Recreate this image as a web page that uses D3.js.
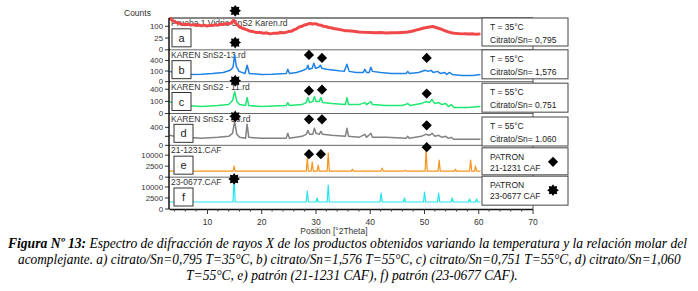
<!DOCTYPE html>
<html>
<head>
<meta charset="utf-8">
<script src="https://cdn.jsdelivr.net/npm/d3@7"></script>
<style>
  body { margin: 0; background: #fff; }
  svg { display: block; }
</style>
</head>
<body>
<div id="chart"></div>
<script>
const width = 698, height = 291;
const sans = "Liberation Sans, Arial, sans-serif";

/// data: [°2Theta, counts]
const letters = ["a", "b", "c", "d", "e", "f"];
const scanNames = ["Prueba 1 Vidrio SnS2 Karen.rd", "KAREN SnS2-13.rd", "KAREN SnS2 - 11.rd",
                   "KAREN SnS2 - 10.rd", "21-1231.CAF", "23-0677.CAF"];
const boxLine1 = ["T = 35°C", "T = 55°C", "T = 55°C", "T = 55°C", "PATRON", "PATRON"];
const boxLine2 = ["Citrato/Sn= 0,795", "Citrato/Sn= 1,576", "Citrato/Sn= 0.751",
                  "Citrato/Sn= 1.060", "21-1231 CAF", "23-0677 CAF"];
const yMax = [183, 900, 690, 1250, 20900, 20900];
const yTicks = [[0, 25, 100], [0, 100, 400], [0, 100, 400], [0, 100, 400], [0, 2500, 10000], [0, 2500, 10000]];
const yTickLabels = [["0", "25", "100"], ["0", "100", "400"], ["0", "100", "400"], ["0", "", "400"],
                     ["0", "2500", "10000"], ["0", "2500", "10000"]];
const xTicks = [10, 20, 30, 40, 50, 60, 70];

const seriesA = [[3.1,185],[3.4,168],[3.8,150],[4.1,142],[4.6,130],[5,126],[5.5,118],[6,113],[6.5,119],[7,110],
  [7.5,115],[8,106],[8.5,112],[9,104],[9.5,110],[10,102],[10.5,108],[11,106],[11.5,113],[12,110],[12.5,118],
  [13,116],[13.5,124],[14,122],[14.5,130],[14.9,158],[15.3,128],[15.7,108],[16.1,92],[16.6,84],[17,78],
  [17.5,70],[18,62],[18.5,60],[19,55],[19.8,54],[20.5,50],[21,52],[21.6,46],[22.2,49],[23,50],[23.5,54],
  [24.2,52],[25,60],[25.5,62],[26,72],[26.5,80],[27,94],[27.5,100],[28,112],[28.5,118],[29,126],[29.5,120],
  [30,124],[30.5,114],[31,110],[31.5,100],[32,96],[32.5,90],[33,86],[33.6,80],[34.2,76],[35,70],[35.5,66],
  [36,65],[37,62],[38,58],[39,56],[40,55],[41,52],[42,54],[43,51],[44,53],[45,52],[46,55],[47,58],[48,64],
  [48.5,70],[49,74],[49.5,80],[50,86],[50.5,90],[51,94],[51.6,98],[52.2,90],[52.8,82],[53.4,74],[54,64],
  [54.5,58],[55,53],[55.6,50],[56.2,48],[57,46],[57.6,47],[58.2,45],[59,46],[59.6,44],[60.4,46]];

const seriesB = [[3.1,94],[4,76],[5,60],[7,46],[9,50],[11,60],[13,76],[14.3,114],[14.8,185],[15.1,637],
  [15.4,212],[15.9,94],[17,60],[17.4,241],[17.8,60],[20,46],[22,50],[24.6,60],[24.9,136],[25.2,60],
  [26.5,76],[27.8,114],[28.4,159],[28.6,241],[28.8,136],[29.4,159],[29.7,305],[30,159],[30.6,185],
  [30.9,241],[31.2,159],[32,136],[33.5,114],[35.3,94],[35.8,272],[36.2,94],[37.5,76],[38.8,76],[39.1,136],
  [39.4,76],[39.9,76],[40.2,185],[40.5,94],[42,76],[44,60],[46.7,60],[47,94],[47.3,60],[49,76],[50.2,114],
  [50.8,94],[51.3,114],[51.7,76],[52.5,94],[53,60],[53.8,76],[54.2,46],[54.7,76],[55.2,46],[57,34],
  [59,34],[60.4,46]];

const seriesC = [[3.1,97],[4,67],[6,43],[9,33],[12,43],[14,54],[14.7,114],[15.1,325],[15.5,97],[16,54],
  [17.1,43],[17.4,172],[17.7,43],[20,33],[24.6,43],[24.9,81],[25.2,43],[27.5,54],[28.3,81],[28.6,172],
  [28.9,81],[29.5,97],[29.8,194],[30.1,97],[30.7,97],[31,172],[31.3,81],[33,67],[35.5,54],[35.8,172],
  [36.1,54],[38,54],[39.1,81],[39.4,54],[40.2,97],[40.5,54],[43,43],[46,43],[47,67],[47.4,43],[49.5,67],
  [50.3,97],[51,81],[51.5,132],[52,67],[52.7,81],[53.3,54],[54,67],[54.5,33],[55,54],[55.5,24],[58,24],
  [60.4,33]];

const seriesD = [[3.1,123],[4,100],[6,79],[9,60],[12,79],[14,100],[14.7,178],[15.1,711],[15.5,149],
  [16,79],[17.1,60],[17.4,544],[17.7,79],[20,60],[24.6,60],[24.9,178],[25.2,60],[27.5,100],[28.3,149],
  [28.6,278],[28.9,149],[29.5,149],[29.8,357],[30.1,178],[30.7,149],[31,242],[31.3,149],[33,123],
  [35.5,100],[35.8,357],[36.1,100],[38,79],[39.1,149],[39.4,79],[40.2,178],[40.5,79],[43,79],[46.7,60],
  [47,100],[47.3,60],[49.5,100],[50.3,149],[51,123],[51.5,178],[52,100],[52.7,123],[53.3,79],[54,100],
  [54.5,60],[55,79],[55.5,44],[58,44],[60.4,44]];

const seriesE = [[3.1,744],[14.8,744],[15,2500],[15.2,744],[28.3,744],[28.5,7460],[28.7,744],[29.2,744],
  [29.4,4650],[29.6,744],[30.3,744],[30.5,2975],[30.7,744],[32.15,744],[32.35,11900],[32.55,744],
  [36.6,744],[36.8,1320],[37,744],[42.1,744],[42.3,1670],[42.5,744],[46.4,744],[46.6,1012],[46.8,744],
  [50.2,744],[50.4,15000],[50.6,744],[52.6,744],[52.8,5970],[53,744],[55.6,744],[55.8,1320],[56,744],
  [58.4,744],[58.6,5970],[58.8,744],[59.3,744],[59.5,2500],[59.7,744],[60.4,744]];

const seriesF = [[3.1,1012],[14.8,1012],[15,21150],[15.2,1012],[28.3,1012],[28.5,6690],[28.7,1012],
  [30.1,1012],[30.3,2500],[30.5,1012],[32.15,1012],[32.35,11900],[32.55,1012],[41.9,1012],[42.1,5290],
  [42.3,1012],[46.2,1012],[46.4,2500],[46.6,1012],[49.9,1012],[50.1,5970],[50.3,1012],[52.5,1012],
  [52.7,5290],[52.9,1012],[55,1012],[55.2,2500],[55.4,1012],[58.2,1012],[58.4,2070],[58.6,1012],
  [59.5,1012],[59.7,2070],[59.9,1012],[60.4,1012]];

const allSeries = [seriesA, seriesB, seriesC, seriesD, seriesE, seriesF];
const colors = ["#f04848", "#1f83e6", "#1ee872", "#828282", "#f7941d", "#22e6ee"];

// phase markers: panel index, kind, °2Theta, counts
const markers = [
  [0, "star", 15.2, 275],
  [1, "star", 15.2, 1360], [1, "diamond", 28.8, 637], [1, "diamond", 31.2, 499], [1, "diamond", 50.5, 499],
  [2, "star", 15.2, 730], [2, "diamond", 28.8, 355], [2, "diamond", 31.2, 387], [2, "diamond", 50.5, 269],
  [3, "star", 15.2, 1038], [3, "diamond", 28.8, 835], [3, "diamond", 31.2, 835], [3, "diamond", 50.5, 494],
  [4, "diamond", 28.8, 10900], [4, "diamond", 31.0, 10900], [4, "diamond", 50.5, 18600],
  [5, "star", 15.0, 18600]
];
const boxMarkers = ["", "", "", "", "diamond", "star"];

const captionLines = [
  [["Figura Nº 13:", true], [" Espectro de difracción de rayos X de los productos obtenidos variando la temperatura y la relación molar del", false]],
  [["acomplejante. a) citrato/Sn=0,795 T=35°C, b) citrato/Sn=1,576 T=55°C, c) citrato/Sn=0,751 T=55°C, d) citrato/Sn=1,060", false]],
  [["T=55°C, e) patrón (21-1231 CAF), f) patrón (23-0677 CAF).", false]]
];

/// layout
const plotLeft = 169, plotRight = 533, plotTop = 18, plotBottom = 209;
const svg = d3.select("#chart").append("svg")
  .attr("width", width).attr("height", height)
  .style("background", "#fff")
  .style("font-family", sans);

const x = d3.scaleLinear().domain([3, 70]).range([plotLeft, 532.5]);
const band = d3.scaleBand().domain(letters).range([plotTop, plotBottom]);
const yScales = letters.map((l, i) =>
  d3.scaleSqrt().domain([0, yMax[i]]).range([band(l) + band.bandwidth(), band(l)]));

// 8 point burst for the 23-0677 phase
const symbolBurst = {
  draw(context, size) {
    const r = Math.sqrt(size) * 0.62, ri = r * 0.68;
    for (let i = 0; i < 16; i++) {
      const a = Math.PI * i / 8, rr = i % 2 ? ri : r;
      const px = Math.sin(a) * rr, py = -Math.cos(a) * rr;
      i ? context.lineTo(px, py) : context.moveTo(px, py);
    }
    context.closePath();
  }
};
const markerPath = kind => kind === "star"
  ? d3.symbol(symbolBurst, 90)()
  : d3.symbol(d3.symbolSquare, 52)();
const markerRot = kind => kind === "star" ? 0 : 45;

/// frame
const frame = svg.append("g");
letters.forEach((l, i) => {
  frame.append("line")
    .attr("x1", plotLeft).attr("x2", plotRight)
    .attr("y1", band(l)).attr("y2", band(l))
    .attr("stroke", i === 0 ? "#111" : "#666").attr("stroke-width", 1);
});
frame.append("line").attr("x1", plotRight).attr("x2", plotRight).attr("y1", plotTop).attr("y2", plotBottom)
  .attr("stroke", "#555");

/// scan names (drawn under the traces)
svg.append("g").selectAll("text")
  .data(letters)
  .join("text")
    .attr("x", plotLeft + 2)
    .attr("y", l => band(l) + 8)
    .attr("font-size", 8.5)
    .attr("fill", "#333")
    .text((l, i) => scanNames[i]);

/// traces
const lineGen = i => d3.line().x(d => x(d[0])).y(d => yScales[i](d[1]));
svg.append("g").selectAll("path")
  .data(allSeries)
  .join("path")
    .attr("d", (d, i) => lineGen(i)(d))
    .attr("fill", "none")
    .attr("stroke", (d, i) => colors[i])
    .attr("stroke-width", (d, i) => i === 0 ? 3 : (i >= 4 ? 1.2 : 1.5))
    .attr("stroke-linejoin", "round");

/// y axes per panel
const yAxis = svg.append("g");
letters.forEach((l, i) => {
  const g = yAxis.append("g");
  yTicks[i].forEach((t, j) => {
    const yy = yScales[i](t);
    g.append("line").attr("x1", plotLeft - 4).attr("x2", plotLeft).attr("y1", yy).attr("y2", yy)
      .attr("stroke", "#333");
    g.append("text").attr("x", plotLeft - 6).attr("y", yy).attr("dy", "0.33em")
      .attr("text-anchor", "end").attr("font-size", 7.8).attr("fill", "#333")
      .text(yTickLabels[i][j]);
  });
});
svg.append("line").attr("x1", plotLeft).attr("x2", plotLeft).attr("y1", plotTop).attr("y2", plotBottom)
  .attr("stroke", "#111").attr("stroke-width", 1.5);
svg.append("text").attr("x", 124).attr("y", 16).attr("font-size", 8.5).attr("fill", "#333").text("Counts");

/// x axis
const xAxis = svg.append("g").attr("transform", `translate(0,${plotBottom})`)
  .call(d3.axisBottom(x).tickValues(xTicks).tickSize(5).tickSizeOuter(0));
xAxis.select(".domain").attr("stroke", "#111").attr("stroke-width", 1.5);
xAxis.selectAll(".tick line").attr("stroke", "#333");
xAxis.selectAll(".tick text").attr("font-size", 8.5).attr("fill", "#333")
  .attr("font-family", sans).attr("dy", "0.9em");
xAxis.append("g").selectAll("line")
  .data(d3.range(4, 70, 2).filter(v => v % 10 !== 0))
  .join("line")
    .attr("x1", d => x(d)).attr("x2", d => x(d)).attr("y1", 0).attr("y2", 2.5)
    .attr("stroke", "#333");
svg.append("text").attr("x", x(33.4)).attr("y", 234).attr("text-anchor", "middle")
  .attr("font-size", 8.5).attr("fill", "#333").text("Position [°2Theta]");

/// letter boxes
const letterG = svg.append("g").selectAll("g")
  .data(letters)
  .join("g")
    .attr("transform", (l, i) => `translate(${i < 3 ? 172 : 174},${band(l) + band.bandwidth() - 21})`);
letterG.append("rect").attr("width", 19).attr("height", 18)
  .attr("fill", "#fff").attr("stroke", "#333");
letterG.append("text").attr("x", 9.5).attr("y", 13).attr("text-anchor", "middle")
  .attr("font-size", 11).attr("fill", "#222").text(l => l);

/// phase markers
svg.append("g").selectAll("path")
  .data(markers)
  .join("path")
    .attr("d", d => markerPath(d[1]))
    .attr("transform", d => `translate(${x(d[2])},${yScales[d[0]](d[3])}) rotate(${markerRot(d[1])})`)
    .attr("fill", "#000");

/// condition boxes on the right
const boxTop = [0, 0, 1.5, 3.5, 2.5, -1];
const boxH = [28, 29, 29, 29, 27, 29];
const condG = svg.append("g").selectAll("g")
  .data(letters)
  .join("g")
    .attr("transform", (l, i) => `translate(482,${band(l) + boxTop[i]})`);
condG.append("rect").attr("width", 86).attr("height", (l, i) => boxH[i])
  .attr("fill", "#fff").attr("stroke", "#444");
condG.append("text").attr("x", 8).attr("y", 12)
  .attr("font-size", 8.5).attr("fill", "#222").text((l, i) => boxLine1[i]);
condG.append("text").attr("x", 8).attr("y", (l, i) => i >= 4 ? 23 : 25)
  .attr("font-size", 8.5).attr("fill", "#222").text((l, i) => boxLine2[i]);
condG.filter((l, i) => boxMarkers[i] !== "")
  .append("path")
    .attr("d", (l) => markerPath(boxMarkers[letters.indexOf(l)]))
    .attr("transform", l => `translate(71,14) rotate(${markerRot(boxMarkers[letters.indexOf(l)])})`)
    .attr("fill", "#000");

/// caption
const capTargets = [[8, 688], [18, 681], [186, 518]];
const capY = [248, 264, 280];
captionLines.forEach((parts, i) => {
  const t = svg.append("text")
    .attr("y", capY[i])
    .style("font-family", "'Liberation Serif', 'Times New Roman', serif")
    .style("font-style", "italic")
    .attr("font-size", 14)
    .attr("fill", "#000");
  parts.forEach(p => t.append("tspan").style("font-weight", p[1] ? "bold" : "normal").text(p[0]));
  const w = t.node().getComputedTextLength();
  const sx = (capTargets[i][1] - capTargets[i][0]) / w;
  t.attr("transform", `translate(${capTargets[i][0]},0) scale(${sx},1)`);
});
</script>
</body>
</html>
